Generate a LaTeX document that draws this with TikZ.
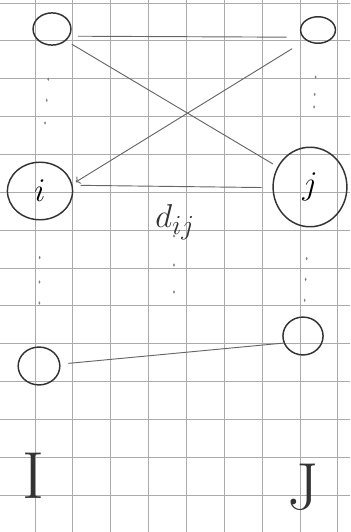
\documentclass[tikz,border=0pt]{standalone}
\usetikzlibrary{shapes.geometric, positioning, arrows.meta, calc}

\begin{document}
\begin{tikzpicture}[
		x=0.02642cm, y=-0.02642cm,
		vertex/.style={draw=black!80, ellipse, line width=1.1pt, inner sep=0pt, font=\fontsize{26}{28}\selectfont},
		conn/.style={draw=black!60, line width=0.7pt},
		gridline/.style={draw=black!33, line width=0.6pt},
		setlabel/.style={font=\fontsize{50}{52}\selectfont, text=black!80},
		dotmark/.style={fill=black!50}
		]
		\useasboundingbox (0,0) rectangle (350,532);
		
		% squared paper
		\foreach \k in {0,...,8} \draw[gridline] ({35+37.85*\k},0) -- ++(0,532);
		\foreach \k in {0,...,13} \draw[gridline] (0,{3+37.85*\k}) -- ++(350,0);
		
		% left column
		\node[vertex, minimum width=1cm, minimum height=0.85cm] (tl) at (52,29) {};
		\node[vertex, minimum width=1.72cm, minimum height=1.52cm] (i) at (40,191) {$i$};
		\node[vertex, minimum width=1.1cm, minimum height=1cm] (bl) at (39,366) {};
		\node[setlabel] (I) at (33,476) {I};
		
		% right column
		\node[vertex, minimum width=0.92cm, minimum height=0.7cm] (tr) at (318,30) {};
		\node[vertex, minimum width=1.95cm, minimum height=2.1cm] (j) at (310,187) {$j$};
		\node[vertex, minimum width=1.06cm, minimum height=1cm] (br) at (303,336) {};
		\node[setlabel] (J) at (303,487) {J};
		
		% edges
		\draw[conn, shorten <=6pt, shorten >=12pt] (tl.-22) -- (tr.205);
		\draw[conn, shorten <=5pt, shorten >=4pt] (tl.-40) -- (j.148);
		\draw[conn, -{To[length=3pt]}, shorten <=12pt, shorten >=3pt] (tr.220) -- (i.12);
		\draw[conn, shorten <=8pt, shorten >=6pt] (j.181) -- (i.10);
		\draw[conn, shorten <=6pt] (bl.5) -- (br.200);
		\node[font=\fontsize{28}{30}\selectfont, text=black!80] (dij) at (175,222) {$d_{ij}$};
		
		% vertical dots
		\foreach \p in {.31,.44,.58} \fill[dotmark] ($(tl)!\p!(i)$) ellipse [x radius=0.7pt, y radius=1.3pt];
		\foreach \p in {.38,.52,.64} \fill[dotmark] ($(i)!\p!(bl)$) ellipse [x radius=0.7pt, y radius=1.3pt];
		\foreach \p in {.30,.41,.49} \fill[dotmark] ($(tr)!\p!(j)$) ellipse [x radius=0.7pt, y radius=1.3pt];
		\foreach \p in {.48,.62,.76} \fill[dotmark] ($(j)!\p!(br)$) ellipse [x radius=0.7pt, y radius=1.3pt];
		\foreach \y in {236,265,292} \fill[dotmark] (174,\y) ellipse [x radius=0.7pt, y radius=1.3pt];
	\end{tikzpicture}
\end{document}
